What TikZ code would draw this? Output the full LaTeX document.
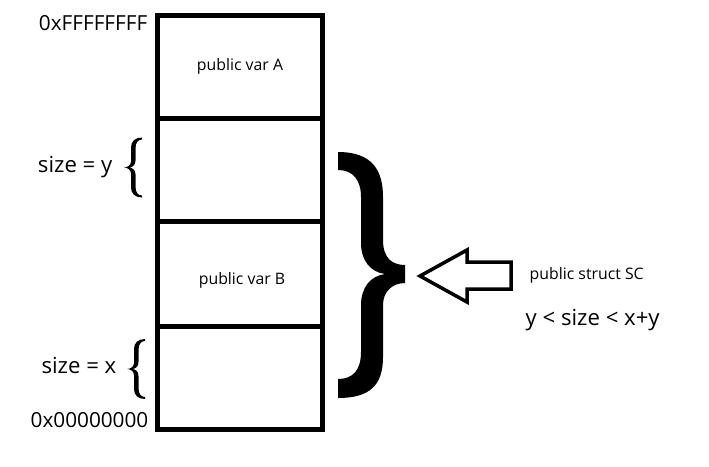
\documentclass[tikz,border=0pt]{standalone}
\usepackage{fontspec}
\setmainfont{Open Sans}
\begin{document}
\begin{tikzpicture}[x=0.01cm,y=-0.01cm,
  cell/.style={draw=black,line width=0.05cm},
  bigtxt/.style={inner sep=0pt,font=\fontsize{6.3pt}{7pt}\selectfont},
  hextxt/.style={inner sep=0pt,font=\fontsize{5.9pt}{7pt}\selectfont},
  smalltxt/.style={inner sep=0pt,font=\fontsize{4.5pt}{5pt}\selectfont},
  hollow/.style={draw=black,line width=0.035cm,line join=miter},
  smallbrace/.pic={
    \fill[black] (18,-30) .. controls (11,-30) and (7,-26) .. (7,-20)
      -- (7,-6) .. controls (7,-2) and (3,0) .. (0,0)
      .. controls (3,0) and (7,2) .. (7,6)
      -- (7,20) .. controls (7,26) and (11,30) .. (18,30)
      -- (18,28) .. controls (14,28) and (11.5,25) .. (11.5,19)
      -- (11.5,7) .. controls (11.5,2) and (8,0) .. (5,0)
      .. controls (8,0) and (11.5,-2) .. (11.5,-7)
      -- (11.5,-19) .. controls (11.5,-25) and (14,-28) .. (18,-28) -- cycle;
  }]
\useasboundingbox (0,0) rectangle (709,466);
\fill[white] (0,0) rectangle (709,466);

% memory cells
\draw[cell] (157.5,15) rectangle (322.5,118);
\draw[cell] (157.5,118) rectangle (322.5,221);
\draw[cell] (157.5,221) rectangle (322.5,326);
\draw[cell] (157.5,326) rectangle (322.5,429);

\node[smalltxt,anchor=base] (varA) at (240,70) {public var A};
\node[smalltxt,anchor=base] (varB) at (242,284) {public var B};

\node[hextxt,anchor=base east] (top) at (148,30) {0xFFFFFFFF};
\node[hextxt,anchor=base east] (bot) at (149,427) {0x00000000};
\node[bigtxt,anchor=base east] (sy) at (113,172) {size = y};
\node[bigtxt,anchor=base east] (sx) at (117,373) {size = x};

\pic at (124,167.5) {smallbrace};
\pic at (127,369) {smallbrace};

% big brace
\fill[black] (338,152) .. controls (372,152) and (383,170) .. (383,197)
  -- (383,240) .. controls (383,258) and (392,265) .. (405,265)
  -- (405,283) .. controls (392,283) and (383,292) .. (383,305)
  -- (383,357) .. controls (383,385) and (370,398) .. (338,398)
  -- (338,379) .. controls (353,379) and (361,370) .. (361,352)
  -- (361,305) .. controls (361,288) and (370,276) .. (385,274)
  .. controls (370,272) and (361,260) .. (361,243)
  -- (361,197) .. controls (361,180) and (353,170) .. (338,170) -- cycle;

% hollow arrow
\draw[hollow] (420,276) -- (467,250) -- (467,262) -- (511,262) -- (511,289)
  -- (467,289) -- (467,302) -- cycle;

\node[smalltxt,anchor=base west] (sc) at (529,279) {public struct SC};
\node[bigtxt,anchor=base west] (rel) at (525,325) {y < size < x+y};
\end{tikzpicture}
\end{document}
